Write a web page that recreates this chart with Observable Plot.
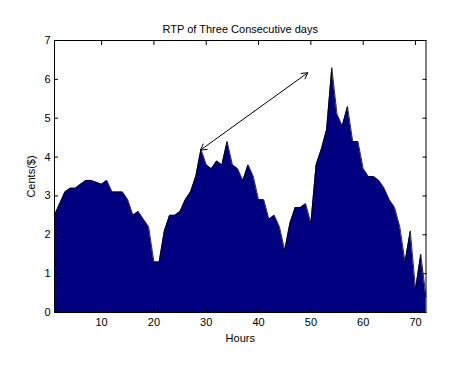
<!DOCTYPE html>
<html>
<head>
<meta charset="utf-8">
<script src="https://cdn.jsdelivr.net/npm/d3@7"></script>
<script src="https://cdn.jsdelivr.net/npm/@observablehq/plot@0.6"></script>
<style>
  html, body { margin: 0; padding: 0; background: #fff; }
  #chart svg { display: block; }
</style>
</head>
<body>
<div id="chart"></div>
<script>
// Data
const title = "RTP of Three Consecutive days";
const xLabel = "Hours";
const yLabel = "Cents($)";
const hours = d3.range(1, 73);
const prices = [
  2.5, 2.8, 3.1, 3.2, 3.2, 3.3, 3.4, 3.4, 3.35, 3.3,
  3.4, 3.1, 3.1, 3.1, 2.9, 2.5, 2.6, 2.4, 2.2, 1.3,
  1.3, 2.1, 2.5, 2.5, 2.6, 2.9, 3.1, 3.5, 4.2, 3.8,
  3.7, 3.9, 3.8, 4.4, 3.8, 3.7, 3.4, 3.8, 3.5, 2.9,
  2.9, 2.4, 2.5, 2.2, 1.6, 2.3, 2.7, 2.7, 2.8, 2.3,
  3.8, 4.2, 4.7, 6.3, 5.1, 4.8, 5.3, 4.4, 4.4, 3.7,
  3.5, 3.5, 3.4, 3.2, 2.9, 2.7, 2.2, 1.3, 2.1, 0.6,
  1.5, 0.4
];
const xTicks = [10, 20, 30, 40, 50, 60, 70];
const yTicks = [0, 1, 2, 3, 4, 5, 6, 7];
// Double-headed annotation arrow endpoints (data units)
const arrowX = [28.9, 49.4];
const arrowY = [4.18, 6.17];

const midX = (arrowX[0] + arrowX[1]) / 2;
const midY = (arrowY[0] + arrowY[1]) / 2;
const arrowSegs = [
  {x1: midX, y1: midY, x2: arrowX[0], y2: arrowY[0]},
  {x1: midX, y1: midY, x2: arrowX[1], y2: arrowY[1]}
];

const chart = Plot.plot({
  width: 467,
  height: 369,
  marginLeft: 54,
  marginRight: 41.5,
  marginTop: 40,
  marginBottom: 57,
  style: {fontFamily: "Arial, 'Liberation Sans', sans-serif", fontSize: "11px", background: "#fff", color: "#000"},
  x: {domain: [1, 72]},
  y: {domain: [0, 7]},
  marks: [
    Plot.areaY(prices, {x: hours, y: prices, fill: "#000080", curve: "linear"}),
    Plot.lineY(prices, {x: hours, y: prices, stroke: "#000", strokeWidth: 0.8}),
    Plot.arrow(arrowSegs, {x1: "x1", y1: "y1", x2: "x2", y2: "y2", bend: 0, headLength: 10, stroke: "#000", strokeWidth: 1}),
    Plot.frame({stroke: "#000", strokeWidth: 1}),
    // tick labels
    Plot.axisX({anchor: "bottom", ticks: xTicks, tickSize: 0, tickPadding: 6, tickFormat: "d", label: null, fontSize: 11}),
    Plot.axisY({anchor: "left", ticks: yTicks, tickSize: 0, tickPadding: 4, tickFormat: "d", fontSize: 11,
      label: yLabel, labelAnchor: "center", labelArrow: "none", labelOffset: 27}),
    // inward ticks on all four sides
    Plot.axisX({anchor: "bottom", ticks: xTicks, tickSize: -4, tickFormat: () => "", label: null}),
    Plot.axisX({anchor: "top", ticks: xTicks, tickSize: -4, tickFormat: () => "", label: null}),
    Plot.axisY({anchor: "left", ticks: yTicks, tickSize: -4, tickFormat: () => "", label: null}),
    Plot.axisY({anchor: "right", ticks: yTicks, tickSize: -4, tickFormat: () => "", label: null}),
    // title and x label
    Plot.text([title], {frameAnchor: "top", lineAnchor: "middle", dy: -11, fontSize: 11}),
    Plot.text([xLabel], {frameAnchor: "bottom", lineAnchor: "middle", dy: 26, fontSize: 11})
  ]
});
document.getElementById("chart").appendChild(chart);
</script>
</body>
</html>
